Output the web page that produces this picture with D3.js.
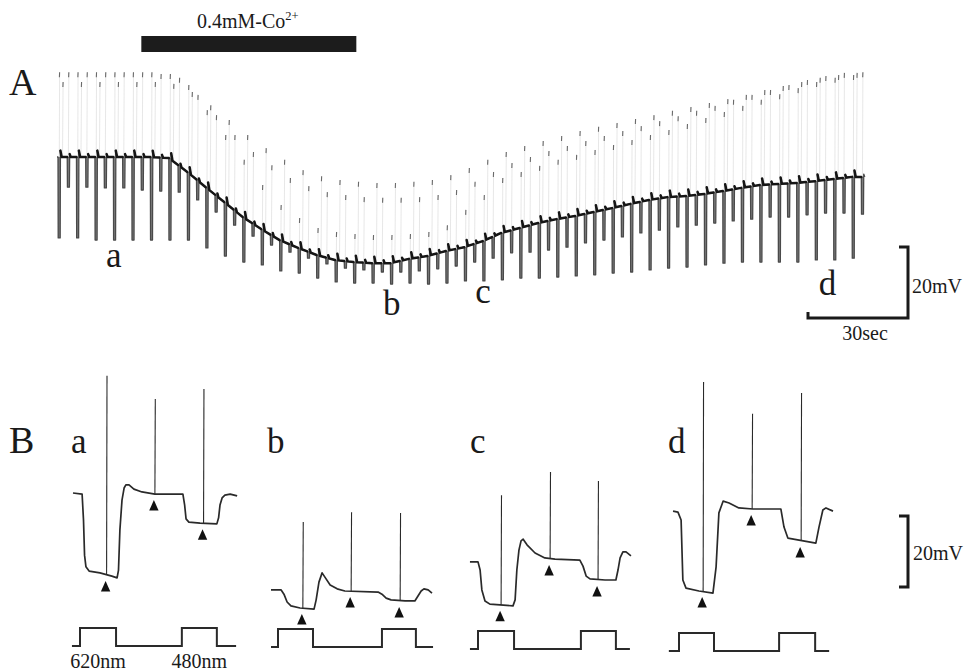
<!DOCTYPE html>
<html>
<head>
<meta charset="utf-8">
<script src="https://cdn.jsdelivr.net/npm/d3@7"></script>
<style>
  body { margin: 0; background: #fff; }
  svg text { font-family: "Liberation Serif", "DejaVu Serif", serif; fill: #1a1a1a; }
</style>
</head>
<body>
<svg id="fig" width="972" height="671"></svg>
<script>
// ---- panel A: one value per stimulus cycle, mV relative to the first dark level
const baseA = [0, 0, 0, 0, 0, 0, -0.3, -4.2, -8.5, -12.7, -16.9, -20.3, -23.4, -25.6, -27.6, -29.0, -29.6, -29.9, -29.9, -28.7, -27.9, -26.5, -25.4, -23.7, -21.4, -20.0, -18.6, -17.5, -16.6, -15.5, -14.4, -13.2, -12.1, -11.3, -11.0, -10.4, -9.6, -8.7, -7.9, -7.6, -7.3, -6.8, -6.2, -5.6];
const trough620A = [-22.8, -22.8, -23.4, -23.4, -23.4, -23.4, -23.4, -23.4, -25.6, -27.9, -29.6, -30.4, -32.1, -32.7, -34.1, -35.2, -35.5, -35.5, -35.8, -35.5, -35.8, -35.5, -34.9, -34.9, -34.6, -34.1, -34.1, -33.8, -33.5, -33.2, -32.7, -32.4, -31.8, -31.3, -31.0, -30.4, -29.9, -29.6, -29.6, -29.6, -29.6, -29.0, -29.0, -28.5];
const trough480A = [-8.5, -8.5, -8.7, -8.7, -9.3, -9.6, -9.9, -12.1, -15.5, -19.2, -22.3, -24.8, -26.8, -28.5, -30.1, -31.3, -31.8, -32.4, -32.4, -32.1, -31.5, -30.7, -29.6, -28.5, -27.0, -26.8, -26.2, -25.4, -24.2, -23.4, -22.5, -21.4, -20.6, -19.7, -19.2, -18.6, -18.0, -17.5, -16.9, -16.9, -16.3, -15.8, -15.8, -16.1];
const spike620A = [23.9, 23.9, 23.9, 23.9, 23.9, 23.9, 23.4, 20.3, 13.2, 6.2, -0.8, -7.9, -13.5, -17.2, -20.0, -21.1, -21.7, -22.0, -22.0, -21.7, -21.1, -19.2, -14.9, -10.7, -5.9, -4.2, -2.5, -0.8, 0.6, 2.0, 3.4, 4.8, 6.2, 7.6, 9.3, 11.0, 12.7, 14.4, 16.1, 17.7, 19.4, 21.1, 22.3, 23.1];
const spikeDarkA = [21.1, 21.1, 21.1, 21.1, 21.1, 21.1, 20.6, 18.3, 14.6, 10.4, 6.2, 2.5, -0.8, -3.7, -5.4, -6.5, -7.0, -7.3, -7.3, -7.0, -6.5, -5.1, -3.1, -0.8, 1.4, 3.1, 4.5, 5.9, 7.3, 8.5, 9.6, 10.7, 11.8, 13.0, 14.1, 15.2, 16.3, 17.5, 18.9, 20.0, 21.1, 22.3, 23.1, 23.7];
const spike480A = [23.9, 23.9, 23.9, 23.9, 23.9, 23.4, 22.3, 17.5, 11.8, 6.2, 1.4, -2.3, -5.9, -8.2, -9.9, -10.7, -11.3, -11.5, -11.5, -11.3, -10.7, -9.3, -7.0, -4.2, -1.7, 0, 1.7, 3.1, 4.5, 5.9, 7.3, 8.7, 10.1, 11.5, 13.0, 14.4, 16.1, 17.5, 18.9, 20.3, 21.7, 22.8, 23.7, 23.9];
const labelCyclesA = [["a", 2.6], ["b", 17.6], ["c", 22.6], ["d", 41.2]];

// stimulus protocol (s); pen trace of A is compressed, pulses look ~0.65 s wide
const PERIOD = 5.54, PULSE_A = 0.65, T480 = 2.77, T_DARK_SPIKE = 1.35, SPIKE_DELAY = 0.3;
const CO_ON = [25, 89.5]; // Co2+ application (s)

// ---- panel B: [time s, mV], mV on the same scale
const panelsB = ["a", "b", "c", "d"];
const traceB = [
  [[-0.20, 0.0], [0.06, -0.3], [0.10, -7.6], [0.13, -17.5], [0.17, -20.8], [0.26, -22.0], [0.57, -22.5], [0.91, -23.4], [1.06, -23.9], [1.10, -21.7], [1.14, -10.4], [1.20, -2.0], [1.26, 1.4], [1.31, 2.3], [1.40, 2.3], [1.54, 1.1], [1.77, 0.3], [2.14, -0.3], [2.94, -0.3], [2.99, -3.4], [3.03, -7.3], [3.11, -8.2], [3.43, -8.5], [3.91, -8.7], [3.96, -7.0], [4.00, -3.4], [4.06, -1.4], [4.14, -0.6], [4.29, -0.3], [4.49, -0.8]],
  [[-0.20, -27.3], [0.09, -27.3], [0.17, -28.5], [0.26, -30.7], [0.37, -31.8], [0.63, -32.4], [1.03, -32.7], [1.09, -30.1], [1.17, -25.1], [1.26, -22.5], [1.34, -23.7], [1.49, -25.9], [1.69, -27.0], [1.91, -27.6], [2.86, -27.9], [2.97, -28.5], [3.09, -29.6], [3.23, -30.1], [3.63, -30.4], [3.91, -30.4], [4.00, -29.0], [4.09, -27.6], [4.17, -27.0], [4.29, -27.3], [4.40, -28.2]],
  [[-0.23, -19.4], [0.00, -19.4], [0.06, -21.7], [0.11, -27.3], [0.20, -30.4], [0.34, -31.3], [0.63, -31.5], [1.00, -31.8], [1.06, -30.1], [1.11, -21.7], [1.17, -16.1], [1.23, -13.5], [1.29, -13.0], [1.40, -14.6], [1.63, -16.9], [1.91, -18.3], [2.20, -18.6], [2.91, -18.9], [3.00, -20.6], [3.09, -23.4], [3.20, -24.2], [3.63, -24.5], [3.94, -24.5], [4.00, -21.7], [4.06, -18.3], [4.14, -16.6], [4.23, -16.6], [4.37, -17.7]],
  [[-0.17, -5.1], [-0.03, -5.4], [0.06, -7.6], [0.11, -24.5], [0.20, -26.8], [0.57, -27.6], [0.97, -28.2], [1.06, -20.8], [1.14, -5.6], [1.26, -2.3], [1.43, -2.8], [1.71, -4.2], [2.11, -4.5], [2.91, -4.5], [3.00, -9.6], [3.11, -12.7], [3.91, -14.1], [4.00, -9.6], [4.11, -4.8], [4.20, -4.2], [4.40, -5.1]]
];
// [time s, start mV, peak mV]
const spikesB = [
  [[0.76, -23.1, 33.0], [2.14, -0.3, 26.5], [3.53, -8.5, 29.3]],
  [[0.71, -32.4, -8.2], [2.09, -27.6, -5.4], [3.49, -30.4, -5.6]],
  [[0.66, -31.5, -0.6], [2.06, -18.6, 5.9], [3.43, -24.5, 3.4]],
  [[0.69, -27.6, 31.3], [2.09, -4.5, 22.3], [3.49, -13.5, 28.2]]
];
// light on/off times (s): 620nm on, off, 480nm on, off
const stimB = [[0, 1.03, 2.91, 3.91], [0, 1.0, 2.97, 3.94], [0, 1.03, 2.94, 3.94], [0, 1.0, 2.86, 3.89]];
const stimSpanB = [[-0.23, 4.46], [-0.2, 4.43], [-0.23, 4.34], [-0.29, 4.29]];
const stimNames = ["620nm", "480nm"];

// ---- layout
const xA = d3.scaleLinear().domain([0, 30]).range([58, 158]);
const yA = d3.scaleLinear().domain([0, 20]).range([157, 86]);
const B_X0 = [80, 278, 478, 679];
const xB = i => d3.scaleLinear().domain([0, 1]).range([B_X0[i], B_X0[i] + 35]);
const yB = d3.scaleLinear().domain([0, 20]).range([493, 422]);
const STIM_Y = [646, 647, 649, 651];
const stimY = i => d3.scaleLinear().domain([0, 1]).range([STIM_Y[i], STIM_Y[i] - 18]);

const svg = d3.select("#fig");

// ---------- panel A
const cycles = baseA.map((b, i) => ({
  i, t0: i * PERIOD, b,
  bNext: i < baseA.length - 1 ? baseA[i + 1] : b,
  tr620: trough620A[i], tr480: trough480A[i],
  s620: spike620A[i], sDark: spikeDarkA[i], s480: spike480A[i]
}));
// dark level drifts from one cycle to the next
const lvl = (c, dt) => c.b + (c.bNext - c.b) * dt / PERIOD;

function cyclePoints(c, last) {
  const t = c.t0;
  const pts = [
    [t, lvl(c, 0)], [t + 0.06, c.tr620], [t + PULSE_A, c.tr620],
    [t + PULSE_A + 0.08, lvl(c, PULSE_A) + 1.8], [t + PULSE_A + 0.45, lvl(c, PULSE_A + 0.45)],
    [t + T480, lvl(c, T480)], [t + T480 + 0.06, c.tr480], [t + T480 + PULSE_A, c.tr480],
    [t + T480 + PULSE_A + 0.08, lvl(c, T480 + PULSE_A) + 0.8], [t + T480 + PULSE_A + 0.4, lvl(c, T480 + PULSE_A + 0.4)]
  ];
  if (!last) pts.push([t + PERIOD, c.bNext]);
  return pts;
}

const lineA = d3.line().x(d => xA(d[0])).y(d => yA(d[1]));
const traceA = [[-0.3, baseA[0]]].concat(...cycles.map((c, k) => cyclePoints(c, k === cycles.length - 1)));

// spikes: faint fast pen strokes with visible tips
const spikeA = cycles.flatMap(c => [
  { t: c.t0 + SPIKE_DELAY, from: c.tr620, to: c.s620 },
  { t: c.t0 + T_DARK_SPIKE, from: lvl(c, T_DARK_SPIKE), to: c.sDark },
  { t: c.t0 + T480 + SPIKE_DELAY, from: c.tr480, to: c.s480 }
]);

// trough bars (the pen going down and back up)
const troughs = cycles.flatMap(c => [
  { t: c.t0, top: lvl(c, 0), bottom: c.tr620 },
  { t: c.t0 + T480, top: lvl(c, T480), bottom: c.tr480 }
]);

const gA = svg.append("g");
gA.append("g")
  .selectAll("line")
  .data(spikeA)
  .join("line")
  .attr("x1", d => xA(d.t)).attr("x2", d => xA(d.t) + 0.6)
  .attr("y1", d => yA(d.from)).attr("y2", d => yA(d.to))
  .attr("stroke", "#a8a8a8").attr("stroke-width", 0.7).attr("stroke-opacity", 0.4);
gA.append("g")
  .selectAll("line")
  .data(spikeA)
  .join("line")
  .attr("x1", d => xA(d.t) + 0.6).attr("x2", d => xA(d.t) + 0.4)
  .attr("y1", d => yA(d.to)).attr("y2", d => yA(d.to) + 5)
  .attr("stroke", "#6a6a6a").attr("stroke-width", 1.1);

gA.append("g")
  .selectAll("rect")
  .data(troughs)
  .join("rect")
  .attr("x", d => xA(d.t))
  .attr("width", xA(PULSE_A) - xA(0))
  .attr("y", d => yA(d.top))
  .attr("height", d => yA(d.bottom) - yA(d.top))
  .attr("fill", "#7e7e7e");

gA.append("path")
  .attr("d", lineA(traceA))
  .attr("fill", "none").attr("stroke", "#4a4a4a").attr("stroke-width", 1.3)
  .attr("stroke-linejoin", "round");

// dark-level plateaus drawn heavier, as on the chart recorder
const plateaus = cycles.flatMap((c, k) => {
  const t = c.t0;
  const segs = [[[t + PULSE_A + 0.06, lvl(c, PULSE_A) + 1.8], [t + PULSE_A + 0.45, lvl(c, PULSE_A + 0.45)], [t + T480, lvl(c, T480)]]];
  if (k < cycles.length - 1) segs.push([[t + T480 + PULSE_A + 0.08, lvl(c, T480 + PULSE_A) + 0.8], [t + T480 + PULSE_A + 0.4, lvl(c, T480 + PULSE_A + 0.4)], [t + PERIOD, c.bNext]]);
  return segs;
});
gA.append("g")
  .selectAll("path")
  .data(plateaus)
  .join("path")
  .attr("d", lineA)
  .attr("fill", "none").attr("stroke", "#151515").attr("stroke-width", 2.5)
  .attr("stroke-linecap", "round");

// Co2+ bar
svg.append("rect")
  .attr("x", xA(CO_ON[0])).attr("width", xA(CO_ON[1]) - xA(CO_ON[0]))
  .attr("y", 36).attr("height", 16).attr("fill", "#1c1c1c");
const coLabel = svg.append("text").attr("x", 197).attr("y", 28).attr("font-size", 20);
coLabel.append("tspan").text("0.4mM-Co");
coLabel.append("tspan").attr("font-size", 12.5).attr("dy", -8).text("2+");

svg.append("text").attr("x", 9).attr("y", 95).attr("font-size", 38).text("A");

// cycle labels under A trace
const labelY = { a: 267, b: 315, c: 303, d: 295 };
svg.append("g")
  .selectAll("text")
  .data(labelCyclesA)
  .join("text")
  .attr("x", d => xA(d[1] * PERIOD))
  .attr("y", d => labelY[d[0]])
  .attr("font-size", 35)
  .text(d => d[0]);

// A scale bar: 20 mV / 30 s
const sbTop = 247;
const sbX = 908;
const sbBottom = sbTop + (yA(0) - yA(20));
const sbLeft = sbX - (xA(30) - xA(0));
svg.append("path")
  .attr("d", `M${sbX - 9},${sbTop} H${sbX} V${sbBottom} H${sbLeft} V${sbBottom - 6}`)
  .attr("fill", "none").attr("stroke", "#1a1a1a").attr("stroke-width", 3);
svg.append("text").attr("x", 912).attr("y", 293).attr("font-size", 20).text("20mV");
svg.append("text").attr("x", 865).attr("y", 340).attr("font-size", 20).attr("text-anchor", "middle").text("30sec");

// ---------- panel B
svg.append("text").attr("x", 9).attr("y", 453).attr("font-size", 38).text("B");

const LABEL_BX = [71, 267, 470, 668];
const arrow = "M0,0 L4.7,10.5 L-4.7,10.5 Z";

panelsB.forEach((name, i) => {
  const x = xB(i);
  const g = svg.append("g");
  const line = d3.line().x(d => x(d[0])).y(d => yB(d[1]));

  g.append("text").attr("x", LABEL_BX[i]).attr("y", 453).attr("font-size", 35).text(name);

  g.append("path")
    .attr("d", line(traceB[i]))
    .attr("fill", "none").attr("stroke", "#2a2a2a").attr("stroke-width", 1.7)
    .attr("stroke-linejoin", "round");

  g.selectAll("line.spike")
    .data(spikesB[i])
    .join("line")
    .attr("class", "spike")
    .attr("x1", d => x(d[0])).attr("x2", d => x(d[0]) + 0.4)
    .attr("y1", d => yB(d[1])).attr("y2", d => yB(d[2]))
    .attr("stroke", "#2a2a2a").attr("stroke-width", 1.1);

  g.selectAll("path.arrow")
    .data(spikesB[i])
    .join("path")
    .attr("class", "arrow")
    .attr("d", arrow)
    .attr("transform", d => `translate(${x(d[0]) - 1},${yB(d[1]) + 6})`)
    .attr("fill", "#111");

  // light stimulus monitor
  const sy = stimY(i);
  const s = stimB[i];
  const span = stimSpanB[i];
  const stimPts = [[span[0], 0], [s[0], 1], [s[1], 0], [s[2], 1], [s[3], 0], [span[1], 0]];
  g.append("path")
    .attr("d", d3.line().curve(d3.curveStepAfter).x(d => x(d[0])).y(d => sy(d[1]))(stimPts))
    .attr("fill", "none").attr("stroke", "#2a2a2a").attr("stroke-width", 2);

  if (i === 0) {
    g.selectAll("text.stim")
      .data(stimNames)
      .join("text")
      .attr("class", "stim")
      .attr("x", (d, k) => x((s[2 * k] + s[2 * k + 1]) / 2))
      .attr("y", 668)
      .attr("font-size", 20)
      .attr("text-anchor", "middle")
      .text(d => d);
  }
});

// B scale bar: 20 mV
const bTop = 516;
const bBottom = bTop + (yB(0) - yB(20));
svg.append("path")
  .attr("d", `M899,${bTop} H908 V${bBottom} H899`)
  .attr("fill", "none").attr("stroke", "#1a1a1a").attr("stroke-width", 3);
svg.append("text").attr("x", 913).attr("y", 560).attr("font-size", 20).text("20mV");
</script>
</body>
</html>
